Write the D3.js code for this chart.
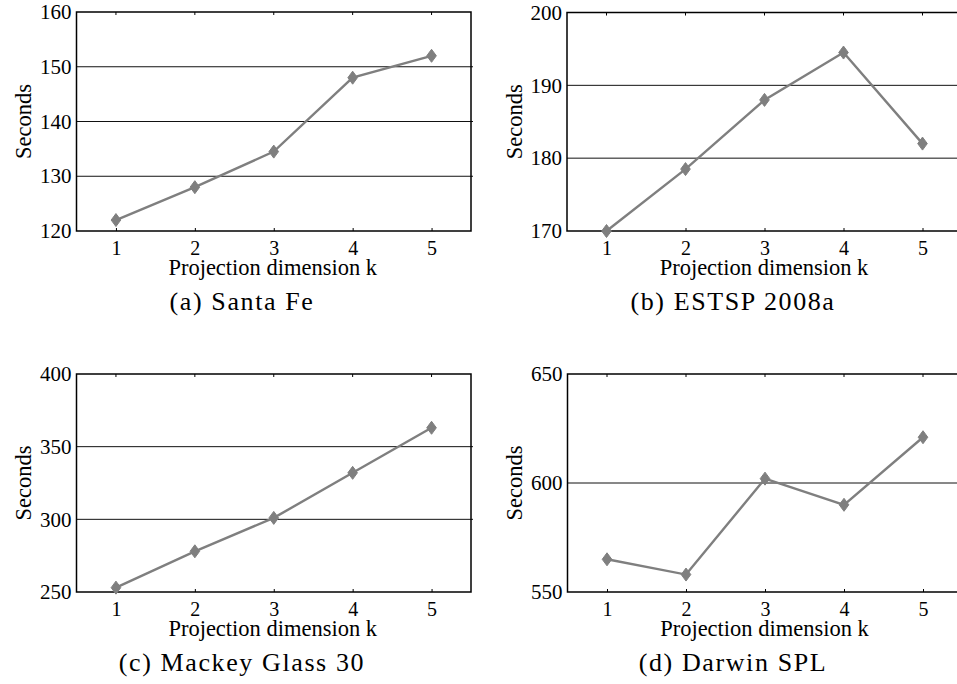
<!DOCTYPE html>
<html>
<head>
<meta charset="utf-8">
<script src="https://cdn.jsdelivr.net/npm/d3@7"></script>
<style>
  body { margin: 0; background: #fff; }
  svg { display: block; }
  text { font-family: "Liberation Serif", "Times New Roman", serif; fill: #000; }
  .caption { font-family: "Liberation Serif", serif; letter-spacing: 1.6px; }
</style>
</head>
<body>
<div id="chart"></div>
<script>
// Data
const kValues = [1, 2, 3, 4, 5];
const captions = ["(a) Santa Fe", "(b) ESTSP 2008a", "(c) Mackey Glass 30", "(d) Darwin SPL"];
const santaFe = [122, 128, 134.5, 148, 152];
const estsp = [170, 178.5, 188, 194.5, 182];
const mackeyGlass = [253, 278, 301, 332, 363];
const darwin = [565, 558, 602, 590, 621];
const yDomains = [[120, 160], [170, 200], [250, 400], [550, 650]];
const yTicks = [[120, 130, 140, 150, 160], [170, 180, 190, 200], [250, 300, 350, 400], [550, 600, 650]];
const series = [santaFe, estsp, mackeyGlass, darwin];

// Layout of the four panels
const width = 957, height = 684;
const boxes = [
  { left: 76.5, top: 12, w: 394.5, h: 219, capX: 242 },
  { left: 567, top: 12.5, w: 395, h: 218.5, capX: 733 },
  { left: 76.5, top: 374, w: 394.5, h: 218, capX: 242 },
  { left: 567.5, top: 374, w: 395, h: 218, capX: 733 }
];
const lineColor = "#7f7f7f";

let svg = d3.select("#chart")
  .append("svg")
  .attr("width", width)
  .attr("height", height);

function drawPanel(i) {
  let b = boxes[i];
  let values = series[i];

  let xScale = d3.scaleLinear()
    .domain([0.5, 5.5])
    .range([0, b.w]);
  let yScale = d3.scaleLinear()
    .domain(yDomains[i])
    .range([b.h, 0]);

  let g = svg.append("g")
    .attr("transform", `translate(${b.left},${b.top})`);

  // gridlines at interior ticks
  g.selectAll("line.grid")
    .data(yTicks[i].slice(1, -1))
    .enter()
    .append("line")
    .attr("class", "grid")
    .attr("x1", 0)
    .attr("x2", b.w + 2)
    .attr("y1", d => yScale(d))
    .attr("y2", d => yScale(d))
    .attr("stroke", "#111")
    .attr("stroke-width", 1);

  // x axis (bottom) with inward ticks, labels below
  let xAxis = d3.axisBottom(xScale)
    .tickValues(kValues)
    .tickFormat(d3.format("d"))
    .tickSizeInner(-3)
    .tickSizeOuter(0)
    .tickPadding(10);
  let xg = g.append("g")
    .attr("transform", `translate(0,${b.h})`)
    .call(xAxis);
  xg.select(".domain").remove();
  xg.selectAll("line").attr("stroke", "#000");
  xg.selectAll("text")
    .attr("font-size", 20)
    .attr("font-family", "Liberation Serif");

  // top ticks
  g.selectAll("line.topTick")
    .data(kValues)
    .enter()
    .append("line")
    .attr("x1", d => xScale(d))
    .attr("x2", d => xScale(d))
    .attr("y1", 0)
    .attr("y2", 3)
    .attr("stroke", "#000");

  // y axis labels
  let yAxis = d3.axisLeft(yScale)
    .tickValues(yTicks[i])
    .tickFormat(d3.format("d"))
    .tickSize(0)
    .tickPadding(5);
  let yg = g.append("g").call(yAxis);
  yg.select(".domain").remove();
  yg.selectAll("text")
    .attr("font-size", 21)
    .attr("font-family", "Liberation Serif");

  // frame
  g.append("rect")
    .attr("x", 0)
    .attr("y", 0)
    .attr("width", b.w)
    .attr("height", b.h)
    .attr("fill", "none")
    .attr("stroke", "#000")
    .attr("stroke-width", 1.5);

  // series line
  let line = d3.line()
    .x((d, j) => xScale(kValues[j]))
    .y(d => yScale(d));
  g.append("path")
    .datum(values)
    .attr("d", line)
    .attr("fill", "none")
    .attr("stroke", lineColor)
    .attr("stroke-width", 2.4);

  // diamond markers
  let diamond = "M0,-6.5L4.8,0L0,6.5L-4.8,0Z";
  g.selectAll("path.marker")
    .data(values)
    .enter()
    .append("path")
    .attr("class", "marker")
    .attr("d", diamond)
    .attr("transform", (d, j) => `translate(${xScale(kValues[j])},${yScale(d)})`)
    .attr("fill", lineColor)
    .attr("stroke", lineColor)
    .attr("stroke-width", 1);

  // axis titles
  g.append("text")
    .attr("x", i % 2 === 1 ? 197 : b.w / 2 - 1)
    .attr("y", b.h + 44)
    .attr("text-anchor", "middle")
    .attr("font-size", 22.5)
    .text("Projection dimension k");

  g.append("text")
    .attr("transform", `translate(-45.5,${b.h / 2}) rotate(-90)`)
    .attr("text-anchor", "middle")
    .attr("font-size", 22.5)
    .text("Seconds");

  // caption
  svg.append("text")
    .attr("class", "caption")
    .attr("x", b.capX)
    .attr("y", b.top + b.h + 79)
    .attr("text-anchor", "middle")
    .attr("font-size", 26)
    .text(captions[i]);
}

for (let i = 0; i < 4; i++) {
  drawPanel(i);
}
</script>
</body>
</html>
